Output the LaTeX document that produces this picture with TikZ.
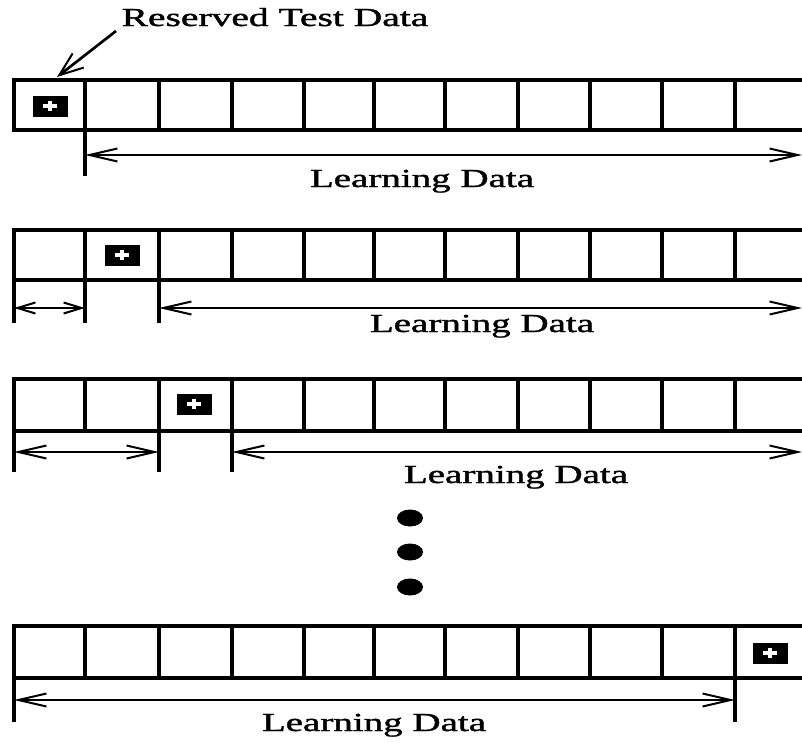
\documentclass[tikz,border=0pt]{standalone}
\usepackage{fontspec}
\setmainfont{Liberation Serif}
\newfontfamily\lblfont[FakeBold=1.2]{Liberation Serif}
\usetikzlibrary{arrows.meta}
\tikzset{
  barbtip/.tip={Straight Barb[length=28pt,width=13pt,line width=2pt]},
  smallbarb/.tip={Straight Barb[length=18pt,width=11pt,line width=2pt]},
  pointbarb/.tip={Straight Barb[length=24pt,width=18pt,line width=2pt]}
}
\begin{document}
\begin{tikzpicture}[x=1pt,y=-1pt,
  cellline/.style={line width=4pt},
  tickline/.style={line width=4pt},
  dimline/.style={line width=2.7pt},
  lbl/.style={font=\lblfont\fontsize{26}{30}\selectfont, inner sep=0pt, anchor=base},
  testbox/.style={fill=black, minimum width=35pt, minimum height=21pt, inner sep=0pt, draw=none},
  plusline/.style={white, line width=3.5pt}]
\useasboundingbox (0,0) rectangle (802,742);
\clip (0,0) rectangle (802,742);
\fill[white] (0,0) rectangle (802,742);

% cell rows: top y, bottom y
\foreach \t/\b in {80/130, 230/280, 379/431, 626/678}{
  \draw[cellline] (14,\t) rectangle (807,\b);
  \foreach \x in {85,159,232,304,374,445,518,590,662,735}
    \draw[cellline] (\x,\t) -- (\x,\b);
}

% reserved test data boxes
\node[testbox] (b1) at (50,106) {};
\node[testbox] (b2) at (122,255) {};
\node[testbox] (b3) at (194,404) {};
\node[testbox] (b4) at (770,653) {};
\foreach \n in {b1,b2,b3,b4}{
  \draw[plusline] ([xshift=-7pt]\n.center) -- ([xshift=7pt]\n.center);
  \draw[plusline] ([yshift=-5pt]\n.center) -- ([yshift=5pt]\n.center);
}

% title label and pointer
\node[lbl] (rtd) at (275,26) {\scalebox{1.52}[1]{Reserved Test Data}};
\coordinate (rtdfrom) at (116,31);
\coordinate (rtdto) at (57,77);
\draw[dimline, -{pointbarb}] (rtdfrom) -- (rtdto);

% row 1
\draw[tickline] (85,131) -- (85,176);
\coordinate (a1l) at (85,155);
\coordinate (a1r) at (802,155);
\draw[dimline, {barbtip}-{barbtip}] (a1l) -- (a1r);
\node[lbl] (ld1) at (422,187) {\scalebox{1.5}[1]{Learning Data}};

% row 2
\foreach \x in {14,85,159} \draw[tickline] (\x,280) -- (\x,323);
\coordinate (a2a) at (14,308);
\coordinate (a2b) at (85,308);
\coordinate (a2c) at (159,308);
\coordinate (a2d) at (802,308);
\draw[dimline, {smallbarb}-{smallbarb}] (a2a) -- (a2b);
\draw[dimline, {barbtip}-{barbtip}] (a2c) -- (a2d);
\node[lbl] (ld2) at (482,332) {\scalebox{1.5}[1]{Learning Data}};

% row 3
\foreach \x in {14,159,232} \draw[tickline] (\x,431) -- (\x,472);
\coordinate (a3a) at (14,452);
\coordinate (a3b) at (159,452);
\coordinate (a3c) at (232,452);
\coordinate (a3d) at (802,452);
\draw[dimline, {barbtip}-{barbtip}] (a3a) -- (a3b);
\draw[dimline, {barbtip}-{barbtip}] (a3c) -- (a3d);
\node[lbl] (ld3) at (516,483) {\scalebox{1.5}[1]{Learning Data}};

% dots
\fill (410,518) ellipse [x radius=13pt, y radius=8.5pt];
\fill (410,552) ellipse [x radius=13pt, y radius=8.5pt];
\fill (410,587) ellipse [x radius=13pt, y radius=8.5pt];

% row 4
\foreach \x in {14,735} \draw[tickline] (\x,678) -- (\x,722);
\coordinate (a4a) at (14,700);
\coordinate (a4b) at (735,700);
\draw[dimline, {barbtip}-{barbtip}] (a4a) -- (a4b);
\node[lbl] (ld4) at (374,731) {\scalebox{1.5}[1]{Learning Data}};
\end{tikzpicture}
\end{document}
